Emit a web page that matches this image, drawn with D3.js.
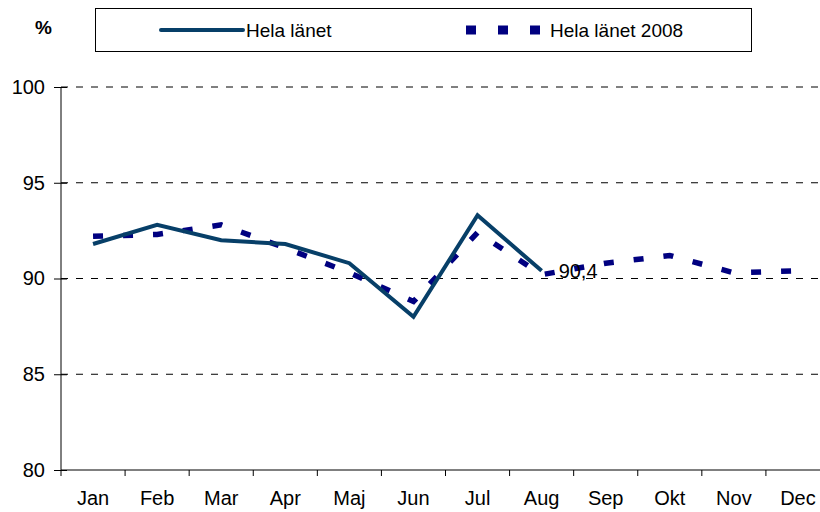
<!DOCTYPE html>
<html><head><meta charset="utf-8">
<script src="https://cdn.jsdelivr.net/npm/d3@7"></script>
<style>body{margin:0;background:#fff}svg{display:block}text{font-family:"Liberation Sans",Arial,sans-serif}</style>
</head><body><svg id="c" width="820" height="512"></svg>
<script>
const months = ["Jan","Feb","Mar","Apr","Maj","Jun","Jul","Aug","Sep","Okt","Nov","Dec"];
const helaLanet = [91.8, 92.8, 92.0, 91.8, 90.8, 88.0, 93.3, 90.4];
const helaLanet2008 = [92.2, 92.3, 92.8, 91.6, 90.3, 88.8, 92.4, 90.2, 90.8, 91.2, 90.3, 90.4];
const yTicks = [80, 85, 90, 95, 100];
const seriesNames = ["Hela länet", "Hela länet 2008"];
const lastLabel = "90,4";

const svg = d3.select("#c");
const x = d3.scaleBand().domain(months).range([61, 830]);
const y = d3.scaleLinear().domain([80, 100]).range([470, 87]);
const cx = m => x(m) + x.bandwidth() / 2;

// gridlines
svg.append("g").selectAll("line").data(yTicks.filter(t => t > 80)).join("line")
  .attr("x1", 61).attr("x2", 830).attr("y1", d => y(d)).attr("y2", d => y(d))
  .attr("stroke", "#000").attr("stroke-width", 1).attr("stroke-dasharray", "7,8");

// y axis
const ya = svg.append("g").attr("transform", "translate(61,0)")
  .call(d3.axisLeft(y).tickValues(yTicks).tickSize(7).tickPadding(9));
ya.select(".domain").attr("stroke", "#000").attr("d", "M0,87V470");
ya.selectAll(".tick line").attr("x2", -7).attr("x1", 6);
ya.selectAll("text").attr("font-size", 20).attr("fill", "#000");

// x axis
const xa = svg.append("g").attr("transform", "translate(0,470)")
  .call(d3.axisBottom(x).tickSize(0).tickPadding(22));
xa.select(".domain").attr("stroke", "#000").attr("d", "M61,0H830");
xa.selectAll("text").attr("font-size", 20).attr("fill", "#000").attr("dy", "0.65em");
svg.append("g").selectAll("line").data(months).join("line")
  .attr("x1", d => x(d)).attr("x2", d => x(d)).attr("y1", 470).attr("y2", 476)
  .attr("stroke", "#000");

const line = d3.line().x((d, i) => cx(months[i])).y(d => y(d));

svg.append("path").datum(helaLanet2008).attr("d", line)
  .attr("fill", "none").attr("stroke", "#000080").attr("stroke-width", 5.5)
  .attr("stroke-dasharray", "10,20");
svg.append("path").datum(helaLanet).attr("d", line)
  .attr("fill", "none").attr("stroke", "#073F68").attr("stroke-width", 4)
  .attr("stroke-linejoin", "miter");

const li = helaLanet.length - 1;
svg.append("text").attr("x", cx(months[li]) + 17).attr("y", y(helaLanet[li]) + 7)
  .attr("font-size", 20).attr("fill", "#000").text(lastLabel);

// % label
svg.append("text").attr("x", 35).attr("y", 34).attr("font-size", 19).attr("font-weight", "bold").text("%");

// legend
svg.append("rect").attr("x", 95.5).attr("y", 8.5).attr("width", 656).attr("height", 43)
  .attr("fill", "#fff").attr("stroke", "#000").attr("stroke-width", 1);
svg.append("line").attr("x1", 161).attr("x2", 243).attr("y1", 30).attr("y2", 30)
  .attr("stroke", "#073F68").attr("stroke-width", 4).attr("stroke-linecap", "round");
svg.append("text").attr("x", 246).attr("y", 37).attr("font-size", 19).text(seriesNames[0]);
svg.append("line").attr("x1", 466).attr("x2", 540).attr("y1", 30).attr("y2", 30)
  .attr("stroke", "#000080").attr("stroke-width", 9).attr("stroke-dasharray", "10,22");
svg.append("text").attr("x", 550).attr("y", 37).attr("font-size", 19).text(seriesNames[1]);
</script></body></html>
